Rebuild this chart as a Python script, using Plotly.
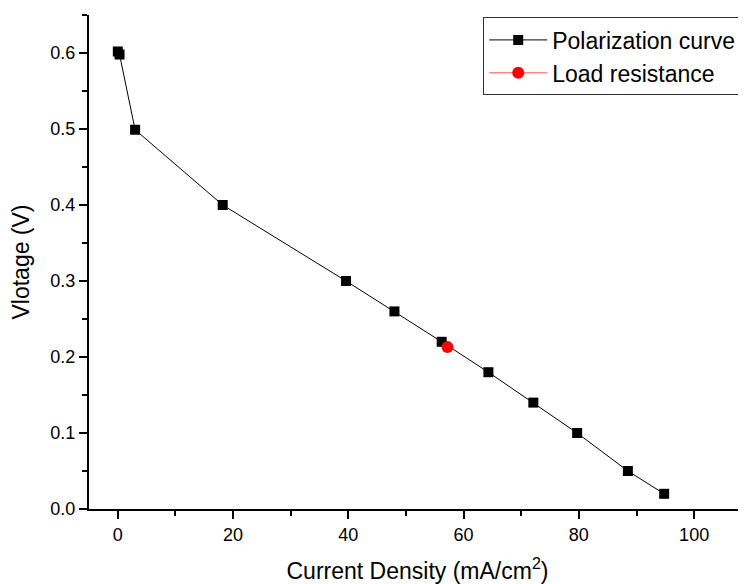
import plotly.graph_objects as go

current_density = [0.0, 0.3, 3.0, 18.2, 39.6, 48.0, 56.2, 64.3, 72.1, 79.7, 88.5, 94.8]
voltage = [0.602, 0.598, 0.499, 0.400, 0.300, 0.260, 0.220, 0.180, 0.140, 0.100, 0.050, 0.020]
load_x = [57.2]
load_y = [0.213]

FONT = "Liberation Sans, Arial"

fig = go.Figure()
fig.add_trace(go.Scatter(
    x=current_density, y=voltage, mode="lines+markers", name="Polarization curve",
    line=dict(color="black", width=1),
    marker=dict(symbol="square", size=10, color="black"),
))
fig.add_trace(go.Scatter(
    x=load_x, y=load_y, mode="lines+markers", name="Load resistance",
    line=dict(color="#ff5050", width=1),
    marker=dict(symbol="circle", size=12, color="red"),
))

axis_common = dict(
    showline=True, linecolor="black", linewidth=2, mirror=False,
    ticks="outside", tickcolor="black", tickwidth=2, ticklen=8,
    showgrid=False, zeroline=False, automargin=False,
    tickfont=dict(family=FONT, size=18, color="black"),
    minor=dict(ticks="outside", ticklen=5, tickwidth=2, tickcolor="black", showgrid=False),
)

fig.update_xaxes(
    range=[-5, 109], tick0=0, dtick=20, minor_dtick=10,
    title=dict(text="Current Density (mA/cm<sup>2</sup>)",
               font=dict(family=FONT, size=23, color="black"), standoff=20),
    **axis_common,
)
fig.update_yaxes(
    range=[0, 0.65], tick0=0, dtick=0.1, minor_dtick=0.05, tickformat=".1f",
    title=dict(text="Vlotage (V)",
               font=dict(family=FONT, size=23, color="black"), standoff=15),
    **axis_common,
)

# page body has an 8px margin; compensate so the plot lands where the reference has it
fig.update_layout(
    width=738, height=576,
    margin=dict(l=81, r=0, t=7, b=75, autoexpand=False),
    paper_bgcolor="white", plot_bgcolor="white",
    showlegend=True,
    legend=dict(
        x=0.6, y=0.995, xanchor="left", yanchor="top",
        bordercolor="#333333", borderwidth=1, bgcolor="white",
        font=dict(family=FONT, size=23, color="black"),
        tracegroupgap=0, itemwidth=58,
    ),
)

fig.write_html("out.html")
